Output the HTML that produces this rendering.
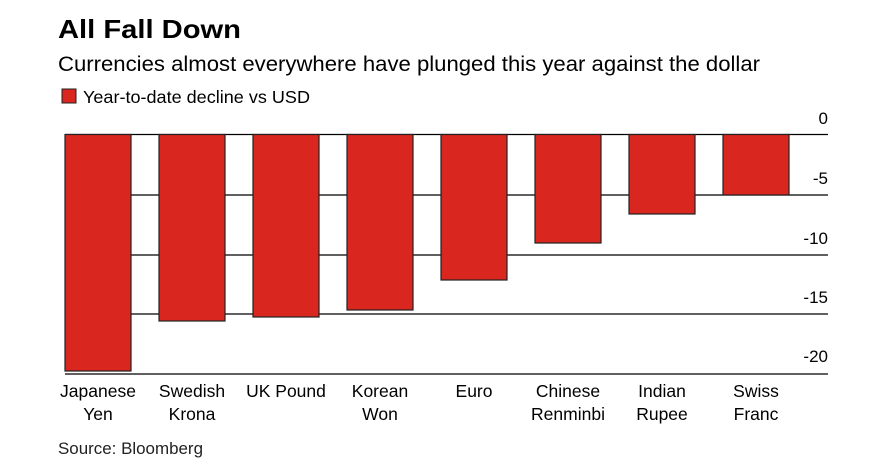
<!DOCTYPE html>
<html><head><style>
html,body{margin:0;padding:0;background:#fff;}
body{width:878px;height:469px;overflow:hidden;font-family:"Liberation Sans",sans-serif;color:#000;}
</style></head><body>
<svg width="878" height="469" xmlns="http://www.w3.org/2000/svg" font-family="Liberation Sans, sans-serif">
<text x="58" y="38" font-size="26" font-weight="bold" textLength="183" lengthAdjust="spacingAndGlyphs">All Fall Down</text>
<text x="58" y="71" font-size="21" textLength="702" lengthAdjust="spacingAndGlyphs">Currencies almost everywhere have plunged this year against the dollar</text>
<rect x="62" y="89" width="14" height="14" fill="#d9261f" stroke="#222" stroke-width="1"/>
<text x="83" y="103" font-size="17.5" textLength="227" lengthAdjust="spacingAndGlyphs">Year-to-date decline vs USD</text>
<g stroke="#000" stroke-width="1.2">
<line x1="65" y1="134.5" x2="828" y2="134.5"/>
<line x1="65" y1="195" x2="828" y2="195"/>
<line x1="65" y1="255" x2="828" y2="255"/>
<line x1="65" y1="314" x2="828" y2="314"/>
<line x1="65" y1="374" x2="828" y2="374"/>
</g>
<g font-size="17" text-anchor="end">
<text x="828" y="124">0</text>
<text x="828" y="184">-5</text>
<text x="828" y="244">-10</text>
<text x="828" y="303">-15</text>
<text x="828" y="362">-20</text>
</g>
<g fill="#d9261f" stroke="#222" stroke-width="1.2">
<rect x="65" y="134.5" width="66" height="236.5"/>
<rect x="159" y="134.5" width="66" height="186.5"/>
<rect x="253" y="134.5" width="66" height="182.5"/>
<rect x="347" y="134.5" width="66" height="175.5"/>
<rect x="441" y="134.5" width="66" height="145.5"/>
<rect x="535" y="134.5" width="66" height="108.5"/>
<rect x="629" y="134.5" width="66" height="79.5"/>
<rect x="723" y="134.5" width="66" height="60.5"/>
</g>
<g font-size="17.5" text-anchor="middle">
<text x="98" y="397">Japanese</text><text x="98" y="420">Yen</text>
<text x="192" y="397">Swedish</text><text x="192" y="420">Krona</text>
<text x="286" y="397">UK Pound</text>
<text x="380" y="397">Korean</text><text x="380" y="420">Won</text>
<text x="474" y="397">Euro</text>
<text x="568" y="397">Chinese</text><text x="568" y="420">Renminbi</text>
<text x="662" y="397">Indian</text><text x="662" y="420">Rupee</text>
<text x="756" y="397">Swiss</text><text x="756" y="420">Franc</text>
</g>
<text x="58" y="454" font-size="16.5" fill="#222" textLength="145" lengthAdjust="spacingAndGlyphs">Source: Bloomberg</text>
</svg>
</body></html>
